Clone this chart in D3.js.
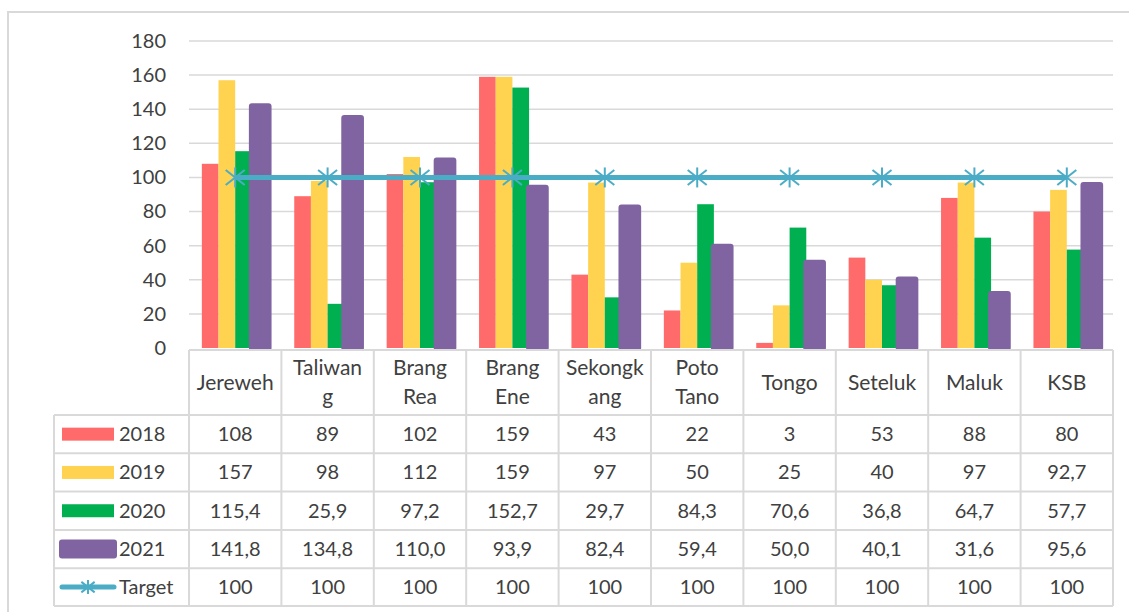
<!DOCTYPE html>
<html>
<head>
<meta charset="utf-8">
<script src="https://cdn.jsdelivr.net/npm/d3@7"></script>
<style>
    body { margin: 0; background: #fff; }
    svg { display: block; font-family: Lato, "Open Sans", sans-serif; }
</style>
</head>
<body>
<div id="chart"></div>
<script>
// data
const categories = ["Jereweh", "Taliwang", "Brang Rea", "Brang Ene", "Sekongkang", "Poto Tano", "Tongo", "Seteluk", "Maluk", "KSB"];
const categoryLines = [["Jereweh"], ["Taliwan", "g"], ["Brang", "Rea"], ["Brang", "Ene"], ["Sekongk", "ang"], ["Poto", "Tano"], ["Tongo"], ["Seteluk"], ["Maluk"], ["KSB"]];
const seriesNames = ["2018", "2019", "2020", "2021"];
const values2018 = [108, 89, 102, 159, 43, 22, 3, 53, 88, 80];
const values2019 = [157, 98, 112, 159, 97, 50, 25, 40, 97, 92.7];
const values2020 = [115.4, 25.9, 97.2, 152.7, 29.7, 84.3, 70.6, 36.8, 64.7, 57.7];
const values2021 = [141.8, 134.8, 110.0, 93.9, 82.4, 59.4, 50.0, 40.1, 31.6, 95.6];
const targetValues = [100, 100, 100, 100, 100, 100, 100, 100, 100, 100];
const yTicks = [0, 20, 40, 60, 80, 100, 120, 140, 160, 180];

const colors = {"2018": "#ff6b6b", "2019": "#ffd34f", "2020": "#00b050", "2021": "#8064a2"};
const targetColor = "#4bacc6";
const gridColor = "#d9d9d9";
const textColor = "#404040";

const series = [
    {name: "2018", values: values2018, fmt: d => String(d).replace(".", ",")},
    {name: "2019", values: values2019, fmt: d => String(d).replace(".", ",")},
    {name: "2020", values: values2020, fmt: d => d.toFixed(1).replace(".", ",")},
    {name: "2021", values: values2021, fmt: d => d.toFixed(1).replace(".", ",")}
];

const W = 1129, H = 612;
const svg = d3.select("#chart").append("svg")
    .attr("width", W)
    .attr("height", H);

// outer chart frame
svg.append("rect")
    .attr("x", 8).attr("y", 12)
    .attr("width", 1300).attr("height", 700)
    .attr("fill", "none")
    .attr("stroke", gridColor)
    .attr("stroke-width", 2);

// title (mostly cut off at the top edge in the reference)
svg.append("text")
    .attr("x", 592).attr("y", -3)
    .attr("text-anchor", "middle")
    .attr("font-size", "20px")
    .attr("fill", textColor)
    .text("Grafik Capaian per Puskesmas (%)");

// scales
const x0 = d3.scaleBand()
    .domain(categories)
    .range([189, 1113])
    .padding(0);

const x1 = d3.scaleBand()
    .domain(seriesNames)
    .range([0, x0.bandwidth()])
    .paddingInner(0)
    .paddingOuter(0.77);

const y = d3.scaleLinear()
    .domain([0, 180])
    .range([348, 41]);

// gridlines
svg.append("g")
    .selectAll("line")
    .data(yTicks.filter(d => d > 0))
    .join("line")
    .attr("x1", 189).attr("x2", 1113)
    .attr("y1", d => y(d)).attr("y2", d => y(d))
    .attr("stroke", gridColor)
    .attr("stroke-width", 1.5);

// y axis labels
const yAxis = d3.axisLeft(y).tickValues(yTicks).tickSize(0).tickPadding(0);
const yG = svg.append("g")
    .attr("transform", "translate(166,0)")
    .call(yAxis);
yG.select(".domain").remove();
yG.selectAll("text")
    .attr("font-family", "Lato, sans-serif")
    .attr("font-size", "20px")
    .attr("fill", textColor);

// bars
series.forEach(s => {
    const isLast = s.name === "2021";
    svg.append("g")
        .selectAll("rect")
        .data(s.values)
        .join("rect")
        .attr("x", (d, i) => x0(categories[i]) + x1(s.name))
        .attr("y", d => y(d))
        .attr("width", x1.bandwidth())
        .attr("height", d => y(0) - y(d))
        .attr("fill", colors[s.name])
        .attr("stroke", isLast ? colors[s.name] : "none")
        .attr("stroke-width", isLast ? 6 : 0)
        .attr("stroke-linejoin", "round");
});

// target line with star markers
const cx = (d, i) => x0(categories[i]) + x0.bandwidth() / 2;
svg.append("path")
    .datum(targetValues)
    .attr("fill", "none")
    .attr("stroke", targetColor)
    .attr("stroke-width", 5)
    .attr("d", d3.line().x(cx).y(d => y(d)));

function star(g, size) {
    const r = size / 2;
    g.append("line").attr("x1", 0).attr("y1", -r).attr("x2", 0).attr("y2", r);
    g.append("line").attr("x1", -r * 0.95).attr("y1", -r * 0.75).attr("x2", r * 0.95).attr("y2", r * 0.75);
    g.append("line").attr("x1", -r * 0.95).attr("y1", r * 0.75).attr("x2", r * 0.95).attr("y2", -r * 0.75);
    g.attr("stroke", targetColor).attr("stroke-width", 2);
}

svg.append("g")
    .selectAll("g")
    .data(targetValues)
    .join("g")
    .attr("transform", (d, i) => `translate(${cx(d, i)},${y(d)})`)
    .each(function() { star(d3.select(this), 20); });

// data table
const tableTop = 350, headerBottom = 415;
const rowEdges = [415, 453.3, 491.6, 529.9, 568.2, 606];
const legendLeft = 54;
const table = svg.append("g")
    .attr("stroke", gridColor)
    .attr("stroke-width", 2);

table.append("line")
    .attr("x1", 189).attr("x2", 1113)
    .attr("y1", tableTop).attr("y2", tableTop);
table.selectAll(".hline")
    .data(rowEdges)
    .join("line")
    .attr("class", "hline")
    .attr("x1", legendLeft).attr("x2", 1113)
    .attr("y1", d => d).attr("y2", d => d);
table.selectAll(".vline")
    .data(categories.map(c => x0(c)).concat([1113]))
    .join("line")
    .attr("class", "vline")
    .attr("x1", d => d).attr("x2", d => d)
    .attr("y1", tableTop).attr("y2", 606);
table.append("line")
    .attr("x1", legendLeft).attr("x2", legendLeft)
    .attr("y1", headerBottom).attr("y2", 606);

// header labels
const header = svg.append("g")
    .attr("font-size", "21px")
    .attr("fill", textColor)
    .attr("text-anchor", "middle");
categoryLines.forEach((lines, i) => {
    const xc = x0(categories[i]) + x0.bandwidth() / 2;
    const mid = (tableTop + headerBottom) / 2;
    lines.forEach((ln, k) => {
        header.append("text")
            .attr("x", xc)
            .attr("y", mid + (k - (lines.length - 1) / 2) * 29)
            .attr("dy", "0.35em")
            .text(ln);
    });
});

// rows
const rows = series.map(s => ({name: s.name, cells: s.values.map(s.fmt)}))
    .concat([{name: "Target", cells: targetValues.map(String)}]);

rows.forEach((r, ri) => {
    const yc = (rowEdges[ri] + rowEdges[ri + 1]) / 2;
    const g = svg.append("g");

    // legend key
    if (r.name === "Target") {
        g.append("line")
            .attr("x1", 62).attr("x2", 114)
            .attr("y1", yc).attr("y2", yc)
            .attr("stroke", targetColor)
            .attr("stroke-width", 5)
            .attr("stroke-linecap", "round");
        const m = g.append("g").attr("transform", `translate(88,${yc})`);
        star(m, 14);
    } else {
        g.append("rect")
            .attr("x", 62).attr("y", yc - 6.5)
            .attr("width", 52).attr("height", 13)
            .attr("fill", colors[r.name])
            .attr("stroke", r.name === "2021" ? colors[r.name] : "none")
            .attr("stroke-width", r.name === "2021" ? 6 : 0)
            .attr("stroke-linejoin", "round");
    }

    g.append("text")
        .attr("x", 119).attr("y", yc)
        .attr("dy", "0.35em")
        .attr("font-size", "20px")
        .attr("fill", textColor)
        .text(r.name);

    g.selectAll(".cell")
        .data(r.cells)
        .join("text")
        .attr("class", "cell")
        .attr("x", (d, i) => x0(categories[i]) + x0.bandwidth() / 2)
        .attr("y", yc)
        .attr("dy", "0.35em")
        .attr("text-anchor", "middle")
        .attr("font-size", "20px")
        .attr("fill", textColor)
        .text(d => d);
});
</script>
</body>
</html>
